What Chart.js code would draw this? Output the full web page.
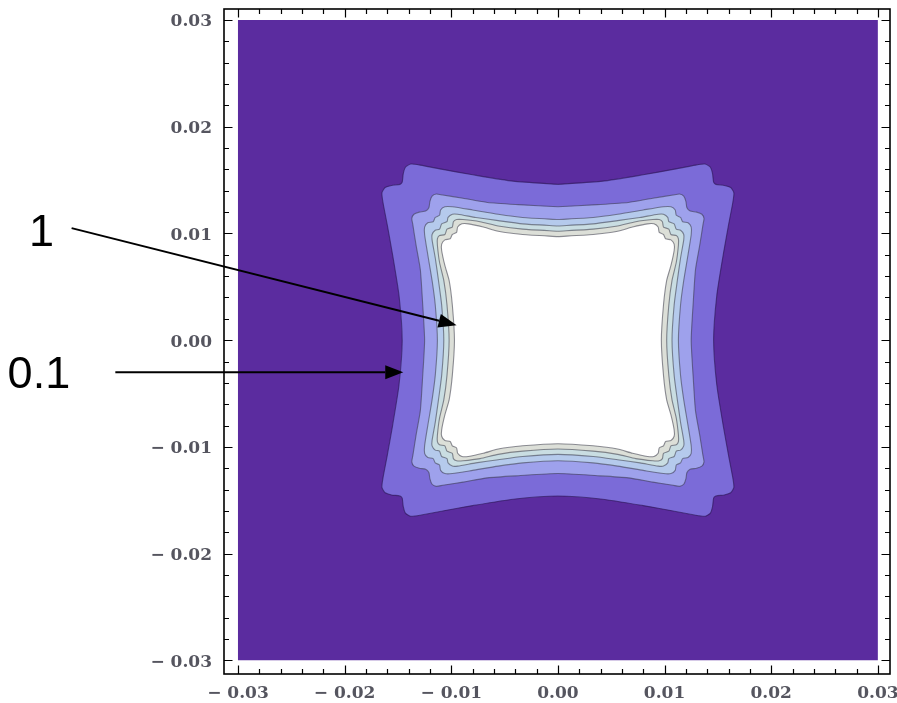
<!DOCTYPE html>
<html>
<head>
<meta charset="utf-8">
<title>Contour plot</title>
<script src="https://cdn.jsdelivr.net/npm/chart.js@4.4.1/dist/chart.umd.min.js"></script>
<style>
  html, body { margin: 0; padding: 0; background: #ffffff; }
  #wrap { width: 897px; height: 703px; position: relative; }
</style>
</head>
<body>
<div id="wrap"><canvas id="plot"></canvas></div>
<script>
// Axis extents (frame) and tick marks
const xFrame = [-0.03131, 0.03114];
const yFrame = [-0.03128, 0.03103];
const tickValues = [-0.03, -0.02, -0.01, 0, 0.01, 0.02, 0.03];
const tickLabels = ['\u2212 0.03', '\u2212 0.02', '\u2212 0.01', '0.00', '0.01', '0.02', '0.03'];
const minorTickValues = [-0.028, -0.026, -0.024, -0.022, -0.018, -0.016, -0.014, -0.012,
  -0.008, -0.006, -0.004, -0.002, 0.002, 0.004, 0.006, 0.008,
  0.012, 0.014, 0.016, 0.018, 0.022, 0.024, 0.026, 0.028];

// Plotted domain (lowest level fills it)
const plotDomain = [[-0.03, -0.03], [0.03, -0.03], [0.03, 0.03], [-0.03, 0.03], [-0.03, -0.03]];

// Contour lines, outermost (level 0.1) to innermost (level 1)
const contourOuter = [
  [0,0.0146],[0.0042,0.0149],[0.0080,0.0155],[0.0108,0.0160],[0.0129,0.0164],[0.0138,0.0165],[0.0143,0.0162],[0.0145,0.0156],[0.0146,0.0148],[0.0148,0.0146],[0.0156,0.0145],[0.0162,0.0143],[0.0165,0.0138],[0.0164,0.0129],[0.0160,0.0108],[0.0155,0.0080],[0.0149,0.0042],[0.0146,0],
  [0.0149,-0.0042],[0.0155,-0.0080],[0.0160,-0.0108],[0.0164,-0.0129],[0.0165,-0.0138],[0.0162,-0.0143],[0.0156,-0.0145],[0.0148,-0.0146],[0.0146,-0.0148],[0.0145,-0.0156],[0.0143,-0.0162],[0.0138,-0.0165],[0.0129,-0.0164],[0.0108,-0.0160],[0.0080,-0.0155],[0.0042,-0.0149],[0,-0.0146],
  [-0.0042,-0.0149],[-0.0080,-0.0155],[-0.0108,-0.0160],[-0.0129,-0.0164],[-0.0138,-0.0165],[-0.0143,-0.0162],[-0.0145,-0.0156],[-0.0146,-0.0148],[-0.0148,-0.0146],[-0.0156,-0.0145],[-0.0162,-0.0143],[-0.0165,-0.0138],[-0.0164,-0.0129],[-0.0160,-0.0108],[-0.0155,-0.0080],[-0.0149,-0.0042],[-0.0146,0],
  [-0.0149,0.0042],[-0.0155,0.0080],[-0.0160,0.0108],[-0.0164,0.0129],[-0.0165,0.0138],[-0.0162,0.0143],[-0.0156,0.0145],[-0.0148,0.0146],[-0.0146,0.0148],[-0.0145,0.0156],[-0.0143,0.0162],[-0.0138,0.0165],[-0.0129,0.0164],[-0.0108,0.0160],[-0.0080,0.0155],[-0.0042,0.0149],[0,0.0146]
];
const contour2 = [
  [0,0.0125],[0.0037,0.0127],[0.0066,0.0129],[0.0089,0.0133],[0.0108,0.0136],[0.0114,0.0137],[0.0118,0.0135],[0.0120,0.0130],[0.0121,0.0124],[0.0124,0.0121],[0.0130,0.0120],[0.0135,0.0118],[0.0137,0.0114],[0.0136,0.0108],[0.0133,0.0089],[0.0129,0.0066],[0.0127,0.0037],[0.0125,0],
  [0.0127,-0.0037],[0.0129,-0.0066],[0.0133,-0.0089],[0.0136,-0.0108],[0.0137,-0.0114],[0.0135,-0.0118],[0.0130,-0.0120],[0.0124,-0.0121],[0.0121,-0.0124],[0.0120,-0.0130],[0.0118,-0.0135],[0.0114,-0.0137],[0.0108,-0.0136],[0.0089,-0.0133],[0.0066,-0.0129],[0.0037,-0.0127],[0,-0.0125],
  [-0.0037,-0.0127],[-0.0066,-0.0129],[-0.0089,-0.0133],[-0.0108,-0.0136],[-0.0114,-0.0137],[-0.0118,-0.0135],[-0.0120,-0.0130],[-0.0121,-0.0124],[-0.0124,-0.0121],[-0.0130,-0.0120],[-0.0135,-0.0118],[-0.0137,-0.0114],[-0.0136,-0.0108],[-0.0133,-0.0089],[-0.0129,-0.0066],[-0.0127,-0.0037],[-0.0125,0],
  [-0.0127,0.0037],[-0.0129,0.0066],[-0.0133,0.0089],[-0.0136,0.0108],[-0.0137,0.0114],[-0.0135,0.0118],[-0.0130,0.0120],[-0.0124,0.0121],[-0.0121,0.0124],[-0.0120,0.0130],[-0.0118,0.0135],[-0.0114,0.0137],[-0.0108,0.0136],[-0.0089,0.0133],[-0.0066,0.0129],[-0.0037,0.0127],[0,0.0125]
];
const contour3 = [
  [0,0.0113],[0.0033,0.0115],[0.0056,0.0118],[0.0080,0.0122],[0.0099,0.0125],[0.0106,0.0125],[0.0110,0.0122],[0.0111,0.0117],[0.0115,0.0115],[0.0117,0.0111],[0.0122,0.0110],[0.0125,0.0106],[0.0125,0.0099],[0.0122,0.0080],[0.0118,0.0056],[0.0115,0.0033],[0.0113,0],
  [0.0115,-0.0033],[0.0118,-0.0056],[0.0122,-0.0080],[0.0125,-0.0099],[0.0125,-0.0106],[0.0122,-0.0110],[0.0117,-0.0111],[0.0115,-0.0115],[0.0111,-0.0117],[0.0110,-0.0122],[0.0106,-0.0125],[0.0099,-0.0125],[0.0080,-0.0122],[0.0056,-0.0118],[0.0033,-0.0115],[0,-0.0113],
  [-0.0033,-0.0115],[-0.0056,-0.0118],[-0.0080,-0.0122],[-0.0099,-0.0125],[-0.0106,-0.0125],[-0.0110,-0.0122],[-0.0111,-0.0117],[-0.0115,-0.0115],[-0.0117,-0.0111],[-0.0122,-0.0110],[-0.0125,-0.0106],[-0.0125,-0.0099],[-0.0122,-0.0080],[-0.0118,-0.0056],[-0.0115,-0.0033],[-0.0113,0],
  [-0.0115,0.0033],[-0.0118,0.0056],[-0.0122,0.0080],[-0.0125,0.0099],[-0.0125,0.0106],[-0.0122,0.0110],[-0.0117,0.0111],[-0.0115,0.0115],[-0.0111,0.0117],[-0.0110,0.0122],[-0.0106,0.0125],[-0.0099,0.0125],[-0.0080,0.0122],[-0.0056,0.0118],[-0.0033,0.0115],[0,0.0113]
];
const contour4 = [
  [0,0.0107],[0.0033,0.0109],[0.0056,0.0112],[0.0077,0.0115],[0.0094,0.0118],[0.0099,0.0118],[0.0103,0.0115],[0.0104,0.0111],[0.0109,0.0109],[0.0111,0.0104],[0.0115,0.0103],[0.0118,0.0099],[0.0118,0.0094],[0.0115,0.0077],[0.0112,0.0056],[0.0109,0.0033],[0.0107,0],
  [0.0109,-0.0033],[0.0112,-0.0056],[0.0115,-0.0077],[0.0118,-0.0094],[0.0118,-0.0099],[0.0115,-0.0103],[0.0111,-0.0104],[0.0109,-0.0109],[0.0104,-0.0111],[0.0103,-0.0115],[0.0099,-0.0118],[0.0094,-0.0118],[0.0077,-0.0115],[0.0056,-0.0112],[0.0033,-0.0109],[0,-0.0107],
  [-0.0033,-0.0109],[-0.0056,-0.0112],[-0.0077,-0.0115],[-0.0094,-0.0118],[-0.0099,-0.0118],[-0.0103,-0.0115],[-0.0104,-0.0111],[-0.0109,-0.0109],[-0.0111,-0.0104],[-0.0115,-0.0103],[-0.0118,-0.0099],[-0.0118,-0.0094],[-0.0115,-0.0077],[-0.0112,-0.0056],[-0.0109,-0.0033],[-0.0107,0],
  [-0.0109,0.0033],[-0.0112,0.0056],[-0.0115,0.0077],[-0.0118,0.0094],[-0.0118,0.0099],[-0.0115,0.0103],[-0.0111,0.0104],[-0.0109,0.0109],[-0.0104,0.0111],[-0.0103,0.0115],[-0.0099,0.0118],[-0.0094,0.0118],[-0.0077,0.0115],[-0.0056,0.0112],[-0.0033,0.0109],[0,0.0107]
];
const contour5 = [
  [0,0.0102],[0.0033,0.0104],[0.0056,0.0107],[0.0073,0.0111],[0.0089,0.0113],[0.0095,0.0113],[0.0098,0.0111],[0.0099,0.0106],[0.0104,0.0104],[0.0106,0.0099],[0.0111,0.0098],[0.0113,0.0095],[0.0113,0.0089],[0.0111,0.0073],[0.0107,0.0056],[0.0104,0.0033],[0.0102,0],
  [0.0104,-0.0033],[0.0107,-0.0056],[0.0111,-0.0073],[0.0113,-0.0089],[0.0113,-0.0095],[0.0111,-0.0098],[0.0106,-0.0099],[0.0104,-0.0104],[0.0099,-0.0106],[0.0098,-0.0111],[0.0095,-0.0113],[0.0089,-0.0113],[0.0073,-0.0111],[0.0056,-0.0107],[0.0033,-0.0104],[0,-0.0102],
  [-0.0033,-0.0104],[-0.0056,-0.0107],[-0.0073,-0.0111],[-0.0089,-0.0113],[-0.0095,-0.0113],[-0.0098,-0.0111],[-0.0099,-0.0106],[-0.0104,-0.0104],[-0.0106,-0.0099],[-0.0111,-0.0098],[-0.0113,-0.0095],[-0.0113,-0.0089],[-0.0111,-0.0073],[-0.0107,-0.0056],[-0.0104,-0.0033],[-0.0102,0],
  [-0.0104,0.0033],[-0.0107,0.0056],[-0.0111,0.0073],[-0.0113,0.0089],[-0.0113,0.0095],[-0.0111,0.0098],[-0.0106,0.0099],[-0.0104,0.0104],[-0.0099,0.0106],[-0.0098,0.0111],[-0.0095,0.0113],[-0.0089,0.0113],[-0.0073,0.0111],[-0.0056,0.0107],[-0.0033,0.0104],[0,0.0102]
];
const contourInner = [
  [0,0.0097],[0.0033,0.0099],[0.0056,0.0102],[0.0070,0.0106],[0.0084,0.0109],[0.0090,0.0109],[0.0094,0.0106],[0.0095,0.0101],[0.0099,0.0099],[0.0101,0.0095],[0.0106,0.0094],[0.0109,0.0090],[0.0109,0.0084],[0.0106,0.0070],[0.0102,0.0056],[0.0099,0.0033],[0.0097,0],
  [0.0099,-0.0033],[0.0102,-0.0056],[0.0106,-0.0070],[0.0109,-0.0084],[0.0109,-0.0090],[0.0106,-0.0094],[0.0101,-0.0095],[0.0099,-0.0099],[0.0095,-0.0101],[0.0094,-0.0106],[0.0090,-0.0109],[0.0084,-0.0109],[0.0070,-0.0106],[0.0056,-0.0102],[0.0033,-0.0099],[0,-0.0097],
  [-0.0033,-0.0099],[-0.0056,-0.0102],[-0.0070,-0.0106],[-0.0084,-0.0109],[-0.0090,-0.0109],[-0.0094,-0.0106],[-0.0095,-0.0101],[-0.0099,-0.0099],[-0.0101,-0.0095],[-0.0106,-0.0094],[-0.0109,-0.0090],[-0.0109,-0.0084],[-0.0106,-0.0070],[-0.0102,-0.0056],[-0.0099,-0.0033],[-0.0097,0],
  [-0.0099,0.0033],[-0.0102,0.0056],[-0.0106,0.0070],[-0.0109,0.0084],[-0.0109,0.0090],[-0.0106,0.0094],[-0.0101,0.0095],[-0.0099,0.0099],[-0.0095,0.0101],[-0.0094,0.0106],[-0.0090,0.0109],[-0.0084,0.0109],[-0.0070,0.0106],[-0.0056,0.0102],[-0.0033,0.0099],[0,0.0097]
];

// Fill colours, from the lowest band upward
const bandColors = ['#5b2c9f', '#7b6bd8', '#9ea1ec', '#b5caec', '#c9dde2', '#dcdfd8', '#ffffff'];

// Level annotations: text anchor, arrow start and arrow tip (data coordinates)
const noteText = ['1', '0.1'];
const noteAnchor = [[-0.0496, 0.0088], [-0.0516, -0.0045]];
const arrowFrom = [[-0.0456, 0.0105], [-0.0415, -0.0030]];
const arrowTo = [[-0.0095, 0.0014], [-0.0145, -0.0030]];

const toPoints = arr => arr.map(p => ({ x: p[0], y: p[1] }));

function regionDataset(points, fillColor, lineColor) {
  return {
    data: toPoints(points),
    backgroundColor: fillColor,
    borderColor: lineColor,
    borderWidth: 1.1,
    fill: 'shape',
    pointRadius: 0,
    pointHoverRadius: 0,
    tension: 0.2
  };
}

const contourLine = 'rgba(55,55,70,0.55)';
// dataset 0 is painted last, so the innermost region comes first
const datasets = [
  regionDataset(contourInner, bandColors[6], contourLine),
  regionDataset(contour5, bandColors[5], contourLine),
  regionDataset(contour4, bandColors[4], contourLine),
  regionDataset(contour3, bandColors[3], contourLine),
  regionDataset(contour2, bandColors[2], contourLine),
  regionDataset(contourOuter, bandColors[1], 'rgba(40,20,80,0.6)'),
  Object.assign(regionDataset(plotDomain, bandColors[0], 'rgba(0,0,0,0)'), { tension: 0 })
];

const tickFont = { family: '"DejaVu Serif", serif', size: 17, weight: 'bold' };
const tickColor = '#55555f';

const frameAndNotes = {
  id: 'frameAndNotes',
  afterDraw(chart) {
    const ctx = chart.ctx;
    const a = chart.chartArea;
    const xs = chart.scales.x, ys = chart.scales.y;
    ctx.save();
    // frame
    ctx.strokeStyle = '#000';
    ctx.lineWidth = 1.6;
    ctx.strokeRect(a.left, a.top, a.right - a.left, a.bottom - a.top);
    // inward ticks on all four sides
    ctx.lineWidth = 1.2;
    const drawTicks = (values, len) => {
      ctx.beginPath();
      values.forEach(v => {
        const px = Math.round(xs.getPixelForValue(v)) + 0.5;
        ctx.moveTo(px, a.bottom); ctx.lineTo(px, a.bottom - len);
        ctx.moveTo(px, a.top); ctx.lineTo(px, a.top + len);
        const py = Math.round(ys.getPixelForValue(v)) + 0.5;
        ctx.moveTo(a.left, py); ctx.lineTo(a.left + len, py);
        ctx.moveTo(a.right, py); ctx.lineTo(a.right - len, py);
      });
      ctx.stroke();
    };
    drawTicks(tickValues, 8.5);
    drawTicks(minorTickValues, 5);

    // annotation arrows and labels
    ctx.fillStyle = '#000';
    ctx.strokeStyle = '#000';
    for (let i = 0; i < noteText.length; i++) {
      const x0 = xs.getPixelForValue(arrowFrom[i][0]), y0 = ys.getPixelForValue(arrowFrom[i][1]);
      const x1 = xs.getPixelForValue(arrowTo[i][0]), y1 = ys.getPixelForValue(arrowTo[i][1]);
      const ang = Math.atan2(y1 - y0, x1 - x0);
      const headLen = 18, headHalf = 7;
      const bx = x1 - headLen * Math.cos(ang), by = y1 - headLen * Math.sin(ang);
      ctx.lineWidth = 2;
      ctx.beginPath(); ctx.moveTo(x0, y0); ctx.lineTo(bx, by); ctx.stroke();
      ctx.beginPath();
      ctx.moveTo(x1, y1);
      ctx.lineTo(bx - headHalf * Math.sin(ang), by + headHalf * Math.cos(ang));
      ctx.lineTo(bx + headHalf * Math.sin(ang), by - headHalf * Math.cos(ang));
      ctx.closePath(); ctx.fill();

      ctx.font = '45px "Liberation Sans", Arial, sans-serif';
      ctx.textAlign = 'left';
      ctx.textBaseline = 'alphabetic';
      ctx.fillText(noteText[i], xs.getPixelForValue(noteAnchor[i][0]), ys.getPixelForValue(noteAnchor[i][1]));
    }
    ctx.restore();
  }
};

new Chart(document.getElementById('plot'), {
  type: 'line',
  data: { datasets },
  options: {
    responsive: true,
    maintainAspectRatio: false,
    devicePixelRatio: 1,
    animation: false,
    layout: { padding: { top: 9, right: 7, left: 0, bottom: 0 } },
    plugins: { legend: { display: false }, tooltip: { enabled: false } },
    elements: { line: { capBezierPoints: false } },
    scales: {
      x: {
        type: 'linear',
        min: xFrame[0],
        max: xFrame[1],
        grid: { display: false, drawTicks: false },
        border: { display: false },
        afterBuildTicks: s => { s.ticks = tickValues.map(v => ({ value: v })); },
        afterFit: s => { s.height = 29; s.paddingLeft = 0; s.paddingRight = 0; },
        ticks: {
          autoSkip: false, maxRotation: 0, minRotation: 0, padding: 9,
          color: tickColor, font: tickFont,
          callback: (v, i) => tickLabels[i]
        }
      },
      y: {
        type: 'linear',
        min: yFrame[0],
        max: yFrame[1],
        grid: { display: false, drawTicks: false },
        border: { display: false },
        afterBuildTicks: s => { s.ticks = tickValues.map(v => ({ value: v })); },
        afterFit: s => { s.width = 224; s.paddingTop = 0; s.paddingBottom = 0; },
        ticks: {
          autoSkip: false, padding: 12, labelOffset: 2,
          color: tickColor, font: tickFont,
          callback: (v, i) => tickLabels[i]
        }
      }
    }
  },
  plugins: [frameAndNotes]
});
</script>
</body>
</html>
